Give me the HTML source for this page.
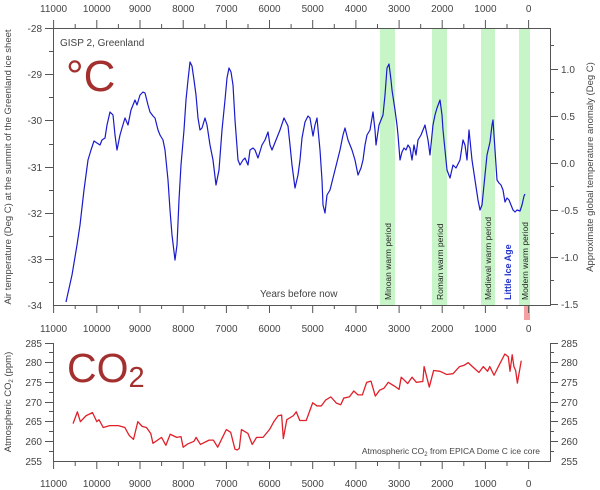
<!DOCTYPE html>
<html><head><meta charset="utf-8"><style>
body{margin:0;background:#fff}
svg{display:block;font-family:"Liberation Sans",sans-serif}
</style></head><body>
<svg width="600" height="490" viewBox="0 0 600 490" xmlns="http://www.w3.org/2000/svg">
<g fill="#c8f5c8">
<rect x="380" y="28" width="15" height="277"/>
<rect x="432" y="28" width="15" height="277"/>
<rect x="481" y="28" width="14" height="277"/>
<rect x="519" y="28" width="11" height="277"/>
</g>
<rect x="524" y="306" width="6" height="14" fill="#f4a0a0"/>
<g stroke="#555" stroke-width="1" fill="none">
<path d="M53.5 28V305M550.5 28V305M53 28.5H551M53 305.5H551"/>
<path d="M53.6 28V20M96.8 28V20M140 28V20M183.2 28V20M226.4 28V20M269.5 28V20M312.7 28V20M355.9 28V20M399.1 28V20M442.2 28V20M485.4 28V20M528.6 28V20
M75.2 28V24M118.4 28V24M161.6 28V24M204.8 28V24M248 28V24M291.1 28V24M334.3 28V24M377.5 28V24M420.7 28V24M463.8 28V24M507 28V24"/>
<path d="M53.6 305V313M96.8 305V313M140 305V313M183.2 305V313M226.4 305V313M269.5 305V313M312.7 305V313M355.9 305V313M399.1 305V313M442.2 305V313M485.4 305V313M528.6 305V313
M75.2 305V309M118.4 305V309M161.6 305V309M204.8 305V309M248 305V309M291.1 305V309M334.3 305V309M377.5 305V309M420.7 305V309M463.8 305V309M507 305V309"/>
<path d="M45 28.5H53M45 74.5H53M45 120.5H53M45 167.5H53M45 213.5H53M45 259.5H53M49 51.5H53M49 97.5H53M49 144.5H53M49 190.5H53M49 236.5H53M49 282.5H53"/>
<path d="M550 69.5H558M550 116.5H558M550 163.5H558M550 210.5H558M550 257.5H558M550 304.5H558M550 45.5H554M550 92.5H554M550 139.5H554M550 186.5H554M550 233.5H554M550 280.5H554"/>
</g>
<g font-size="10" fill="#444">
<g text-anchor="middle">
<text x="53.6" y="12">11000</text><text x="96.8" y="12">10000</text><text x="140" y="12">9000</text><text x="183.2" y="12">8000</text><text x="226.4" y="12">7000</text><text x="269.5" y="12">6000</text><text x="312.7" y="12">5000</text><text x="355.9" y="12">4000</text><text x="399.1" y="12">3000</text><text x="442.2" y="12">2000</text><text x="485.4" y="12">1000</text><text x="528.6" y="12">0</text>
<text x="53.6" y="332">11000</text><text x="96.8" y="332">10000</text><text x="140" y="332">9000</text><text x="183.2" y="332">8000</text><text x="226.4" y="332">7000</text><text x="269.5" y="332">6000</text><text x="312.7" y="332">5000</text><text x="355.9" y="332">4000</text><text x="399.1" y="332">3000</text><text x="442.2" y="332">2000</text><text x="485.4" y="332">1000</text><text x="528.6" y="332">0</text>
<text x="53.6" y="487">11000</text><text x="96.8" y="487">10000</text><text x="140" y="487">9000</text><text x="183.2" y="487">8000</text><text x="226.4" y="487">7000</text><text x="269.5" y="487">6000</text><text x="312.7" y="487">5000</text><text x="355.9" y="487">4000</text><text x="399.1" y="487">3000</text><text x="442.2" y="487">2000</text><text x="485.4" y="487">1000</text><text x="528.6" y="487">0</text>
</g>
<g text-anchor="end">
<text x="42" y="32">-28</text><text x="42" y="78">-29</text><text x="42" y="124">-30</text><text x="42" y="171">-31</text><text x="42" y="217">-32</text><text x="42" y="263">-33</text><text x="42" y="309">-34</text>
<text x="42" y="347">285</text><text x="42" y="366">280</text><text x="42" y="386">275</text><text x="42" y="406">270</text><text x="42" y="425">265</text><text x="42" y="445">260</text><text x="42" y="465">255</text>
</g>
<text x="561" y="73">1.0</text><text x="561" y="120">0.5</text><text x="561" y="167">0.0</text><text x="561" y="214">-0.5</text><text x="561" y="261">-1.0</text><text x="561" y="308">-1.5</text>
<text x="561" y="347">285</text><text x="561" y="366">280</text><text x="561" y="386">275</text><text x="561" y="406">270</text><text x="561" y="425">265</text><text x="561" y="445">260</text><text x="561" y="465">255</text>
<text x="60" y="46">GISP 2, Greenland</text>
<text x="260" y="297">Years before now</text>
<text transform="translate(11,167) rotate(-90)" text-anchor="middle" font-size="9.5">Air temperature (Deg C) at the summit of the Greenland ice sheet</text>
<text transform="translate(593,167) rotate(-90)" text-anchor="middle" font-size="9.5">Approximate global temperature anomaly (Deg C)</text>
<text transform="translate(11,402) rotate(-90)" text-anchor="middle" font-size="9.5">Atmospheric CO<tspan font-size="6" dy="2">2</tspan><tspan dy="-2"> (ppm)</tspan></text>
<text x="540" y="454" text-anchor="end" font-size="8.5">Atmospheric CO<tspan font-size="6" dy="2">2</tspan><tspan dy="-2"> from EPICA Dome C ice core</tspan></text>
<g font-size="8.5" fill="#222">
<text transform="translate(391,300) rotate(-90)">Minoan warm period</text>
<text transform="translate(443,300) rotate(-90)">Roman warm period</text>
<text transform="translate(491,300) rotate(-90)">Medieval warm period</text>
<text transform="translate(528,300) rotate(-90)">Modern warm period</text>
</g>
<text transform="translate(511,300) rotate(-90)" font-size="9" font-weight="bold" fill="#2233cc">Little Ice Age</text>
</g>
<text x="66" y="91" font-size="44" fill="#a3302e" font-family="Liberation Sans, sans-serif">°C</text>
<text x="67" y="382" font-size="41" fill="#a3302e" font-family="Liberation Sans, sans-serif">CO<tspan font-size="29" dy="5">2</tspan></text>
<g stroke="#555" stroke-width="1" fill="none">
<path d="M53.5 343V461M550.5 343V461M53 461.5H551"/>
<path d="M53.6 461V469M96.8 461V469M140 461V469M183.2 461V469M226.4 461V469M269.5 461V469M312.7 461V469M355.9 461V469M399.1 461V469M442.2 461V469M485.4 461V469M528.6 461V469
M75.2 461V466M118.4 461V466M161.6 461V466M204.8 461V466M248 461V466M291.1 461V466M334.3 461V466M377.5 461V466M420.7 461V466M463.8 461V466M507 461V466"/>
<path d="M45 343.5H53M45 362.5H53M45 382.5H53M45 402.5H53M45 421.5H53M45 441.5H53M49 352.5H53M49 372.5H53M49 392.5H53M49 411.5H53M49 431.5H53M49 451.5H53"/>
<path d="M550 343.5H558M550 362.5H558M550 382.5H558M550 402.5H558M550 421.5H558M550 441.5H558M550 352.5H554M550 372.5H554M550 392.5H554M550 411.5H554M550 431.5H554M550 451.5H554"/>
</g>
<polyline fill="none" stroke="#1a1acc" stroke-width="1.2" stroke-linejoin="round" points="66,302 72,275 77,245 80,225 84,190 88,160 91,150 94,141 97,143 100,145 102,140 105,138 107,125 110,112 113,115 115,135 117,150 120,135 122,128 125,118 128,125 131,110 135,100 137,105 140,95 143,92 145,93 148,105 150,112 153,116 155,118 158,130 160,135 163,140 165,150 168,180 170,210 172,235 175,260 177,245 179,200 181,165 184,130 186,100 188,80 190,62 192,66 194,80 196,95 198,118 200,130 202,128 205,118 207,125 210,145 213,160 216,185 219,170 222,130 225,100 227,78 229,68 231,72 233,85 235,120 238,160 240,165 243,160 245,158 248,165 250,150 253,148 255,150 258,158 262,145 265,140 268,132 270,145 272,150 276,140 280,130 284,118 288,126 290,145 292,165 295,188 298,175 300,160 302,138 305,122 308,116 310,118 313,136 315,125 317,118 320,150 322,180 323,205 325,213 327,195 330,190 333,178 335,170 338,158 340,150 343,135 345,128 348,140 350,145 352,150 355,160 358,175 361,168 363,160 365,145 367,135 370,130 373,112 375,130 376,145 379,125 383,115 385,95 387,68 389,64 391,80 392,90 395,110 397,125 398,135 400,160 402,152 404,148 406,150 408,145 410,148 412,160 414,145 416,155 418,140 421,135 423,130 425,125 428,140 430,155 433,125 435,115 437,108 440,100 442,115 443,130 445,150 447,170 450,178 453,165 456,168 460,160 463,140 465,145 467,160 469,130 472,160 475,180 478,200 480,210 482,205 484,185 487,155 490,142 492,125 493,120 495,150 497,180 499,183 501,185 503,190 505,202 507,198 509,200 511,205 513,210 515,212 517,210 520,211 522,205 524,196 525,194"/>
<g transform="matrix(-0.04318 0 0 -3.933 528.6 1463.9)">
<polyline fill="none" stroke="#e0202a" stroke-width="1.3" vector-effect="non-scaling-stroke" stroke-linejoin="round" points="10550,264.5 10450,267.5 10380,265 10250,266.5 10100,267.3 10000,265 9950,265.5 9850,263.5 9700,264 9500,264 9350,263.5 9250,261.5 9150,260.5 9050,265 8950,263.8 8850,263.5 8750,262 8700,259.5 8500,261 8400,259 8300,261.8 8150,261 8050,261.2 8000,258.5 7900,259.3 7750,260 7700,261 7600,259.2 7400,260.3 7300,260.3 7200,258.5 7000,263 6900,262.3 6800,258 6750,257.8 6700,258.2 6650,263 6500,262 6400,259.2 6300,261 6150,261 6000,263 5900,265 5800,266.5 5720,266.7 5680,260.7 5600,265.5 5450,266.5 5380,267.5 5300,265.3 5150,265.3 5000,269.8 4900,269 4800,269 4700,270.5 4580,271.3 4450,269.7 4350,269.3 4280,271 4150,271.3 4050,272.8 3950,271.8 3850,271.8 3750,275 3650,275.3 3550,271.5 3450,273 3350,273.5 3250,275 3100,274 3000,273.2 2950,276.3 2800,274.7 2700,276.3 2600,275 2450,275.2 2420,279 2300,273.8 2200,278 2050,277.8 1900,277 1750,277.2 1600,279 1500,279.3 1400,280 1300,279 1150,277.5 1050,279 950,277.8 900,279 800,276.8 700,279 550,282.2 470,281.5 430,277.8 380,282 340,279 300,278 260,274.8 170,280.5"/>
</g>
</svg>
</body></html>
